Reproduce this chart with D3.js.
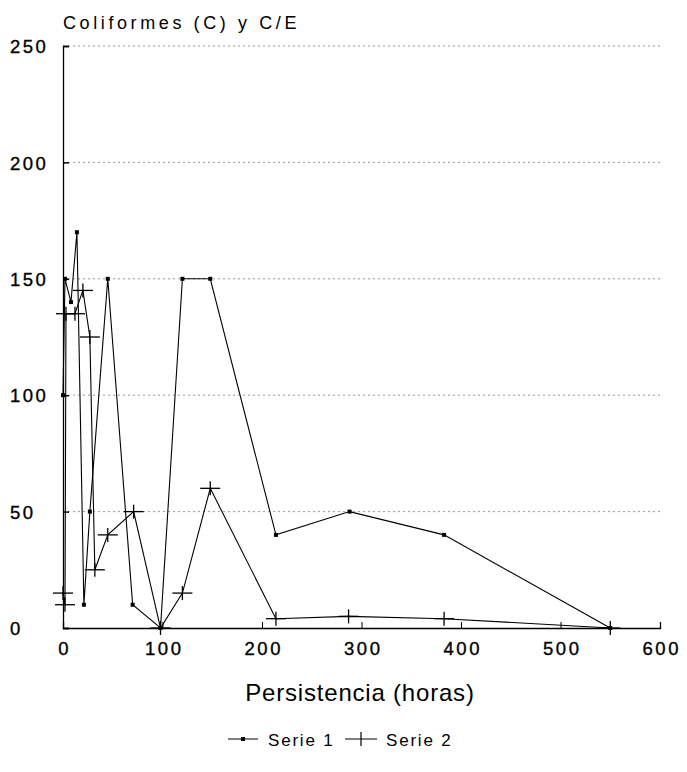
<!DOCTYPE html>
<html><head><meta charset="utf-8">
<script src="https://cdn.jsdelivr.net/npm/d3@7"></script>
<style>
body{margin:0;background:#fff;}
text{font-family:"Liberation Sans",Arial,Helvetica,sans-serif;fill:#000;}
</style></head><body>
<svg id="c" width="687" height="772"></svg>
<script>
const serie1X = [0, 2, 8, 14, 21, 27, 45, 70, 98, 120, 148, 214, 288, 383, 550];
const serie1Y = [100, 150, 140, 170, 10, 50, 150, 10, 0, 150, 150, 40, 50, 40, 0];
const serie2X = [0, 2, 3, 12, 20, 27, 32, 45, 71, 98, 120, 148, 214, 287, 383, 550];
const serie2Y = [15, 10, 135, 135, 145, 125, 25, 40, 50, 0, 15, 60, 4, 5, 4, 0];
const xTicks = [0, 100, 200, 300, 400, 500, 600];
const yTicks = [0, 50, 100, 150, 200, 250];
const seriesNames = ["Serie 1", "Serie 2"];
const yTitle = "Coliformes (C) y C/E";
const xTitle = "Persistencia (horas)";

const svg = d3.select("#c");
const x = d3.scaleLinear().domain([0, 600]).range([63, 660]);
const y = d3.scaleLinear().domain([0, 250]).range([628, 46]);

// grid
svg.append("g").selectAll("line").data(yTicks.filter(d => d > 0)).join("line")
  .attr("x1", x(0)).attr("x2", x(600)).attr("y1", d => y(d)).attr("y2", d => y(d))
  .attr("stroke", "#999").attr("stroke-width", 1).attr("stroke-dasharray", "2,3");

// axes
const xa = svg.append("g").attr("transform", `translate(0,${y(0)})`)
  .call(d3.axisBottom(x).tickValues(xTicks).tickSize(-6).tickPadding(14).tickFormat(d3.format("d")));
xa.select(".domain").attr("stroke", "#000").attr("stroke-width", 1.3);
xa.selectAll(".tick line").attr("stroke", "#000").filter(d => d === 0 || d === 600).remove();
xa.selectAll("text").attr("font-size", 18.5).attr("letter-spacing", 2.5).attr("dx", 1.25)
  .attr("stroke", "#000").attr("stroke-width", 0.35)
  .attr("font-family", "Liberation Sans, Arial, sans-serif").attr("fill", "#000");

const ya = svg.append("g").attr("transform", `translate(${x(0)},0)`)
  .call(d3.axisLeft(y).tickValues(yTicks).tickSize(-6).tickFormat(d3.format("d")));
ya.select(".domain").attr("stroke", "#000").attr("stroke-width", 1.3);
ya.selectAll(".tick line").attr("stroke", "#000").attr("stroke-width", 1.5);
ya.selectAll("text").attr("font-size", 18.5).attr("letter-spacing", 2.5)
  .attr("stroke", "#000").attr("stroke-width", 0.35)
  .attr("text-anchor", "start").attr("x", 10 - x(0)).attr("dy", "0.36em")
  .attr("font-family", "Liberation Sans, Arial, sans-serif").attr("fill", "#000");

// titles
svg.append("text").attr("x", 63).attr("y", 29).attr("font-size", 18).attr("letter-spacing", 3.6).text(yTitle);
svg.append("text").attr("x", 360).attr("y", 701).attr("text-anchor", "middle").attr("font-size", 24).attr("letter-spacing", 0.8).text(xTitle);

const line = d3.line().x(d => x(d[0])).y(d => y(d[1]));
const s1 = serie1X.map((v, i) => [v, serie1Y[i]]);
const s2 = serie2X.map((v, i) => [v, serie2Y[i]]);

svg.append("path").datum(s1).attr("d", line).attr("fill", "none").attr("stroke", "#000").attr("stroke-width", 1.1);
svg.append("path").datum(s2).attr("d", line).attr("fill", "none").attr("stroke", "#000").attr("stroke-width", 1.1);

svg.append("g").selectAll("rect").data(s1).join("rect")
  .attr("x", d => x(d[0]) - 2).attr("y", d => y(d[1]) - 2).attr("width", 4).attr("height", 4).attr("fill", "#000");

const plus = svg.append("g").selectAll("g").data(s2).join("g")
  .attr("transform", d => `translate(${x(d[0])},${y(d[1])})`);
plus.append("line").attr("x1", -10).attr("x2", 10).attr("stroke", "#000").attr("stroke-width", 1.3);
plus.append("line").attr("y1", -7).attr("y2", 7).attr("stroke", "#000").attr("stroke-width", 1.3);

// legend
const lg = svg.append("g");
lg.append("line").attr("x1", 228).attr("x2", 258).attr("y1", 739).attr("y2", 739).attr("stroke", "#000").attr("stroke-width", 1);
lg.append("rect").attr("x", 241).attr("y", 737).attr("width", 4).attr("height", 4).attr("fill", "#000");
lg.append("text").attr("x", 268).attr("y", 746).attr("font-size", 17).attr("letter-spacing", 1.8).text(seriesNames[0]);
lg.append("line").attr("x1", 345).attr("x2", 377).attr("y1", 739).attr("y2", 739).attr("stroke", "#000").attr("stroke-width", 1);
lg.append("line").attr("x1", 361).attr("x2", 361).attr("y1", 732).attr("y2", 746).attr("stroke", "#000").attr("stroke-width", 1.2);
lg.append("text").attr("x", 386).attr("y", 746).attr("font-size", 17).attr("letter-spacing", 1.8).text(seriesNames[1]);
</script>
</body></html>
